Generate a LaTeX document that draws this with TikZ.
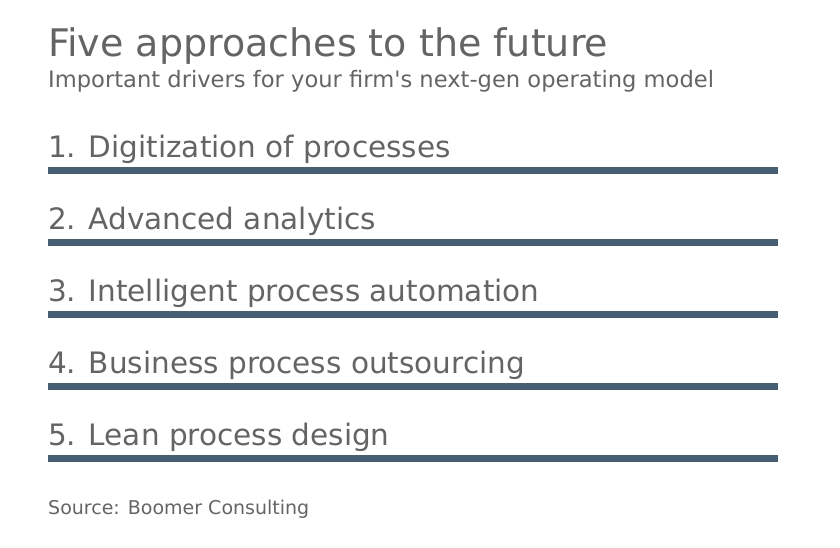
\documentclass[tikz,border=0pt]{standalone}
\usepackage{fontspec}
\setmainfont{DejaVu Sans}
\usepackage{tikz}
\definecolor{txtgray}{HTML}{646464}
\definecolor{barblue}{HTML}{485F73}
\tikzset{
  lbl/.style={anchor=base west,inner sep=0pt,text=txtgray},
  bar/.style={barblue,line width=7pt}
}
\begin{document}
\begin{tikzpicture}[x=1pt,y=-1pt]
		\useasboundingbox (0,0) rectangle (840,547);
		\node[lbl,font=\fontsize{38}{44}\selectfont](title)at(48,56) {Five approaches to the future};
		\node[lbl,font=\fontsize{22.6}{26}\selectfont](sub)at(48,87) {Important drivers for your firm\textquotesingle s next-gen operating model};
		
		\foreach \i/\txt in {1/Digitization of processes,2/Advanced analytics,3/Intelligent process automation,4/Business process outsourcing,5/Lean process design}{
			\node[lbl,font=\fontsize{29.5}{34}\selectfont](item\i)at(48,{157+72*(\i-1)}) {\i. \txt};
			\draw[bar](48,{170+72*(\i-1)}) -- (778,{170+72*(\i-1)});
		}
		
		\node[lbl,font=\fontsize{19}{23}\selectfont](src)at(48,514) {Source: Boomer Consulting};
	\end{tikzpicture}
\end{document}
